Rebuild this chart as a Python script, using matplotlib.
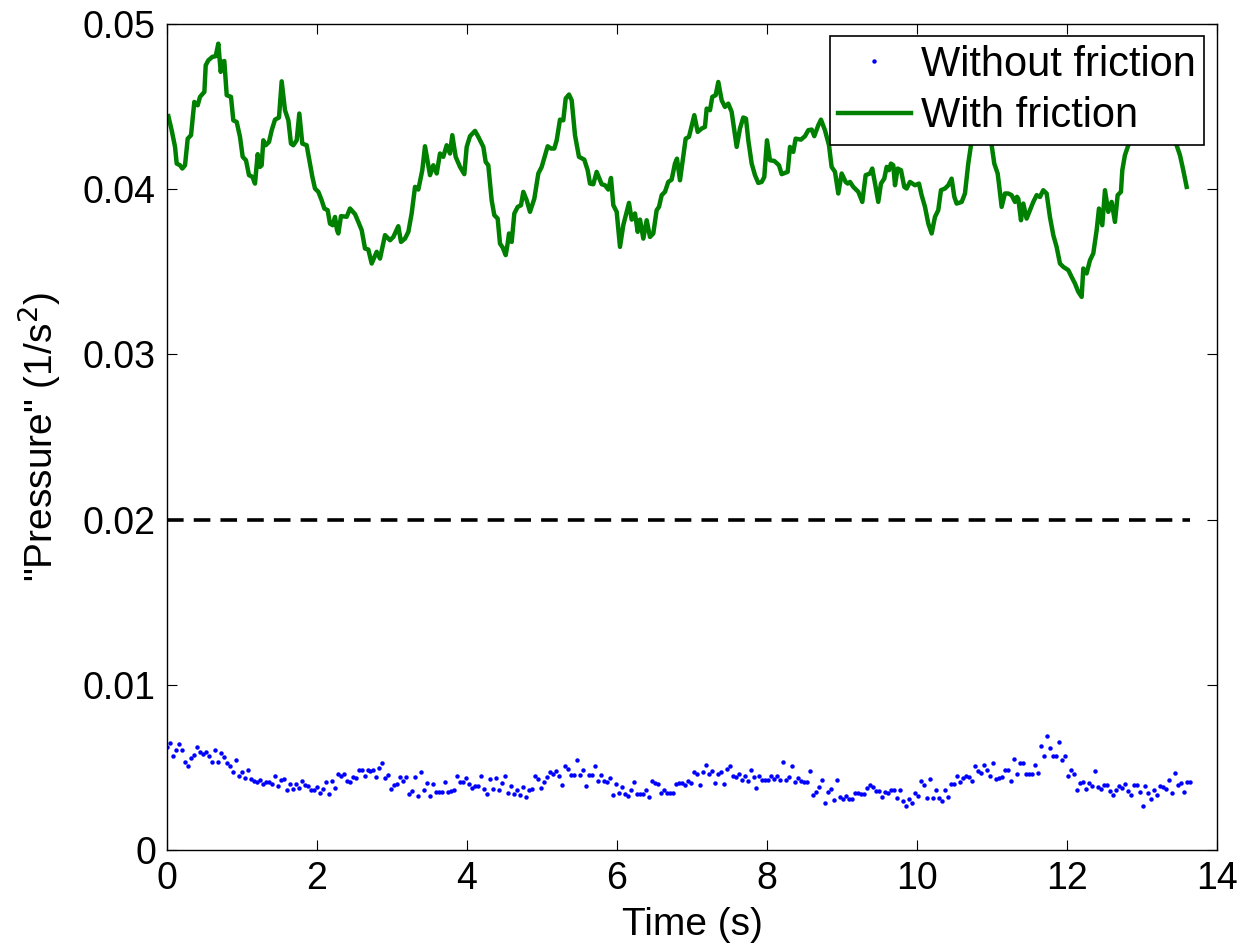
import numpy as np
import matplotlib
matplotlib.use("Agg")
import matplotlib.pyplot as plt

plt.rcParams['font.family'] = ['Liberation Sans', 'DejaVu Sans']

# Without friction: one sample every dt seconds (values in 1e-3 1/s^2)
dt = 0.0399
p_nofric = np.array([
    6.26, 6.49, 5.68, 6.03, 6.41, 6.05, 5.35, 5.10, 5.57, 5.74,
    6.24, 5.95, 5.83, 5.93, 5.70, 5.35, 6.07, 5.35, 5.85, 5.62,
    5.28, 5.07, 4.72, 5.47, 4.51, 4.70, 4.37, 4.85, 4.30, 4.16,
    4.12, 4.24, 4.01, 4.10, 4.14, 3.99, 4.51, 3.89, 4.26, 4.28,
    3.62, 3.97, 3.68, 3.99, 3.76, 4.16, 3.95, 3.89, 3.62, 3.64,
    3.82, 3.47, 3.70, 4.12, 3.41, 4.20, 3.78, 4.62, 4.47, 4.60,
    4.20, 4.12, 4.41, 4.39, 4.83, 4.83, 4.47, 4.83, 4.80, 4.85,
    4.45, 4.97, 5.24, 4.39, 4.57, 3.68, 3.93, 3.97, 4.43, 4.20,
    4.43, 3.41, 3.55, 4.45, 3.26, 4.72, 3.64, 4.05, 3.28, 3.99,
    3.53, 3.53, 3.51, 4.10, 3.53, 3.55, 3.66, 4.47, 4.14, 4.14,
    4.39, 3.97, 3.74, 3.89, 3.87, 4.49, 3.72, 3.37, 4.28, 3.72,
    4.39, 3.66, 4.08, 4.49, 3.43, 3.85, 3.41, 3.62, 3.34, 3.80,
    3.20, 3.66, 3.70, 4.49, 4.30, 3.78, 4.12, 4.45, 4.72, 4.60,
    4.78, 4.51, 3.91, 5.10, 4.91, 4.57, 4.57, 5.43, 4.57, 4.87,
    3.89, 4.53, 4.53, 5.10, 4.16, 4.53, 4.16, 4.14, 4.37, 3.32,
    3.97, 3.45, 3.80, 3.37, 3.28, 3.62, 4.10, 3.39, 3.39, 3.41,
    3.62, 3.20, 4.18, 4.08, 3.99, 3.43, 3.64, 3.43, 3.43, 3.43,
    4.01, 4.05, 4.05, 3.95, 4.16,
    4.05, 4.70, 4.58, 3.96, 4.73, 5.13, 4.58, 4.77, 4.03, 4.58,
    4.73, 3.98, 4.92, 5.11, 4.47, 4.41, 4.62, 4.22, 4.51, 4.15,
    4.83, 4.43, 3.77, 4.47, 4.22, 4.26, 4.26, 4.51, 4.30, 4.49,
    4.24, 5.34, 4.22, 4.43, 5.07, 4.13, 4.37, 4.17, 4.09, 4.09,
    4.81, 3.35, 3.52, 3.79, 4.26, 2.86, 3.50, 3.71, 3.03, 4.26,
    3.24, 3.09, 3.30, 3.09, 3.11, 3.45, 3.47, 3.39, 3.41, 3.73,
    3.92, 3.83, 3.56, 3.56, 3.22, 3.52, 3.45, 3.64, 3.66, 3.18,
    3.62, 2.99, 2.69, 3.11, 2.86, 3.45, 3.28, 4.17, 3.94, 3.16,
    4.28, 3.16, 3.66, 3.16, 2.99, 3.62, 3.24, 3.98, 3.98, 4.51,
    4.09, 4.34, 4.49, 4.41, 4.20, 5.11, 4.77, 4.68, 5.15, 4.83,
    4.47, 5.28, 4.30, 4.39, 4.43, 4.85, 4.85, 4.15, 5.49, 4.62,
    5.28, 5.28, 4.62, 4.58, 4.58, 5.15, 4.68, 6.32, 5.72, 6.89,
    6.17, 5.72, 5.70, 6.53, 5.47, 5.72, 4.47, 4.87, 4.58, 3.64,
    4.05, 4.11, 3.71, 4.05, 3.86, 4.81, 3.79, 3.69, 3.96, 3.96,
    3.58, 3.33, 3.64, 3.88, 3.75, 4.00, 3.60, 3.33, 3.92, 3.96,
    3.50, 2.65, 3.90, 3.43, 3.07, 3.62, 3.33, 3.88, 3.81, 3.69,
    4.22, 3.47, 4.68, 3.94, 4.07, 3.52, 4.11, 4.11,
]) * 1e-3
t_nofric = np.arange(len(p_nofric)) * dt

# With friction: (time, pressure in 1e-3 1/s^2) read at the line's corners
t_fric = [
    0.018, 0.062, 0.107, 0.129, 0.173, 0.204, 0.240, 0.276, 0.320, 0.364,
    0.409, 0.440, 0.498, 0.516, 0.551, 0.604, 0.649, 0.684, 0.716, 0.738,
    0.764, 0.796, 0.853, 0.884, 0.929, 0.973, 1.009, 1.053, 1.093, 1.138,
    1.173, 1.209, 1.240, 1.262, 1.284, 1.316, 1.360, 1.396, 1.440, 1.493,
    1.529, 1.573, 1.618, 1.653, 1.684, 1.729, 1.764, 1.804, 1.862, 1.907,
    1.938, 1.973, 2.018, 2.062, 2.098, 2.142, 2.173, 2.209, 2.240, 2.267,
    2.284, 2.320, 2.396, 2.440, 2.507, 2.551, 2.596, 2.640, 2.684, 2.729,
    2.796, 2.840, 2.907, 2.973, 3.018, 3.084, 3.120, 3.173, 3.218, 3.262,
    3.307, 3.351, 3.404, 3.440, 3.507, 3.551, 3.596, 3.640, 3.684, 3.729,
    3.773, 3.804, 3.849, 3.907, 3.964, 3.996, 4.040, 4.107, 4.151, 4.218,
    4.249, 4.284, 4.329, 4.364, 4.409, 4.440, 4.476, 4.516,
    4.542, 4.560, 4.596, 4.631, 4.676, 4.720, 4.751, 4.796, 4.840, 4.898,
    4.951, 4.996, 5.076, 5.120, 5.164, 5.196, 5.240, 5.284, 5.316, 5.360,
    5.396, 5.440, 5.493, 5.564, 5.609, 5.640, 5.684, 5.729, 5.796, 5.840,
    5.884, 5.920, 5.951, 5.996, 6.040, 6.084, 6.160, 6.196, 6.240, 6.276,
    6.307, 6.351, 6.396, 6.440, 6.484, 6.529, 6.560, 6.596, 6.640, 6.684,
    6.729, 6.773, 6.800,
    6.840, 6.871, 6.916, 6.960, 7.031, 7.076, 7.129, 7.173, 7.196, 7.240,
    7.271, 7.316, 7.351, 7.396, 7.440, 7.484, 7.529, 7.564, 7.596, 7.640,
    7.684, 7.720, 7.751, 7.796, 7.840, 7.884, 7.929, 7.964, 8.000, 8.040,
    8.098, 8.160, 8.196, 8.240, 8.276, 8.307, 8.351, 8.382, 8.453, 8.507,
    8.551, 8.596, 8.631, 8.684, 8.720, 8.773, 8.827, 8.862, 8.907, 8.951,
    8.996, 9.049,
    9.076, 9.107, 9.151, 9.218, 9.271, 9.316, 9.373, 9.404, 9.449, 9.484,
    9.520, 9.564, 9.596, 9.627, 9.653, 9.684, 9.707, 9.742, 9.787, 9.831,
    9.862, 9.907, 9.973, 10.027, 10.062, 10.107, 10.151, 10.196, 10.240, 10.284,
    10.320, 10.373, 10.418, 10.462, 10.498, 10.529, 10.596, 10.640, 10.684, 10.720,
    10.800, 10.900, 10.996, 11.031, 11.076, 11.093, 11.129, 11.173, 11.218, 11.262,
    11.307, 11.333,
    11.351, 11.387, 11.418, 11.462, 11.507, 11.551, 11.596, 11.640, 11.684, 11.729,
    11.773, 11.818, 11.862, 11.907, 11.951, 12.018, 12.062, 12.107, 12.151, 12.196,
    12.218, 12.262, 12.307, 12.351, 12.396, 12.427, 12.471, 12.507, 12.551, 12.596,
    12.640, 12.676, 12.720, 12.738, 12.773, 12.818, 12.900, 13.100, 13.300, 13.462,
    13.507, 13.551, 13.596,
]
p_fric = np.array([
    44.42, 43.57, 42.56, 41.55, 41.45, 41.25, 41.45, 43.06, 43.27, 45.28,
    45.08, 45.59, 45.89, 47.50, 47.80, 48.01, 48.05, 48.81, 47.10, 47.70,
    47.76, 45.69, 45.59, 44.17, 44.07, 43.17, 41.96, 41.75, 40.85, 40.75,
    40.34, 42.12, 41.35, 41.45, 42.96, 42.66, 42.86, 43.57, 44.21, 44.34,
    46.53, 44.78, 44.17, 42.76, 42.66, 42.96, 44.58, 42.76, 42.66, 41.55,
    40.75, 40.04, 39.84, 39.33, 38.83, 38.73, 37.92, 37.82, 38.32, 37.52,
    37.32, 38.37, 38.33, 38.83, 38.49, 38.02, 37.52, 36.41, 36.35, 35.50,
    36.21, 35.80, 37.22, 36.91, 37.11, 37.76, 36.81, 37.01, 37.42, 38.53,
    40.14, 39.98, 41.15, 42.60, 40.85, 41.45, 40.95, 42.16, 41.96, 42.66,
    42.16, 43.27, 41.96, 41.35, 40.91, 42.56, 43.21, 43.53, 43.17, 42.56,
    41.65, 41.45, 39.33, 38.43, 38.22, 36.71, 36.47, 36.01,
    36.71, 37.32, 36.81, 38.53, 38.93, 39.03, 39.84, 39.33, 38.63, 39.43,
    40.95, 41.35, 42.60, 42.46, 42.46, 42.96, 44.21, 44.17, 45.49, 45.73,
    45.38, 43.27, 41.96, 41.79, 41.15, 40.34, 40.30, 41.05, 40.30, 40.24,
    39.98, 40.68, 39.03, 38.63, 36.51, 37.82, 39.17, 38.16, 38.53, 37.42,
    38.16, 37.01, 38.12, 37.11, 37.32, 38.73, 38.93, 39.64, 39.84, 40.44,
    40.58, 41.55, 41.85,
    40.54, 41.55, 43.06, 43.17, 44.48, 43.47, 43.67, 43.77, 44.88, 44.78,
    45.59, 45.69, 46.49, 45.38, 44.98, 45.18, 44.68, 43.57, 42.56, 43.67,
    44.34, 44.27, 42.96, 41.55, 40.85, 40.38, 40.44, 40.74, 42.96, 41.75,
    41.71, 41.45, 40.91, 40.99, 41.05, 42.56, 42.26, 43.06, 43.00, 43.21,
    43.57, 43.61, 43.21, 43.87, 44.21, 43.57, 42.66, 41.35, 41.05, 39.74,
    40.95, 40.44,
    40.34, 40.44, 40.14, 39.84, 39.23, 40.85, 40.95, 41.25, 40.14, 39.23,
    40.34, 40.64, 41.35, 41.15, 41.55, 41.45, 40.24, 41.25, 41.15, 40.14,
    40.04, 40.44, 40.24, 40.34, 39.64, 38.93, 37.92, 37.32, 38.32, 38.73,
    39.94, 40.04, 40.24, 40.64, 39.54, 39.13, 39.23, 39.74, 41.55, 42.66,
    44.50, 45.20, 42.66, 41.55, 40.95, 40.34, 38.93, 39.74, 39.74, 39.64,
    39.23, 39.54,
    39.43, 38.12, 39.13, 38.22, 38.73, 39.23, 39.64, 39.53, 39.94, 39.74,
    38.32, 37.22, 36.51, 35.50, 35.30, 35.10, 34.69, 34.29, 33.79, 33.48,
    35.20, 34.90, 35.70, 36.11, 37.52, 38.83, 37.82, 39.94, 38.63, 39.23,
    38.02, 39.64, 39.84, 41.15, 42.06, 42.66, 44.00, 44.80, 44.20, 42.66,
    42.06, 41.15, 40.14,
]) * 1e-3

threshold = 0.02
xticks = [0, 2, 4, 6, 8, 10, 12, 14]
yticks = [0, 0.01, 0.02, 0.03, 0.04, 0.05]
ytick_labels = ['0', '0.01', '0.02', '0.03', '0.04', '0.05']

fig = plt.figure(figsize=(12.52, 9.52), dpi=100)
ax = fig.add_axes([0.1334, 0.1071, 0.8386, 0.8677])

ax.plot(t_nofric, p_nofric, 'o', color='#0000ff', markersize=3.2, mew=0,
        label='Without friction')
ax.plot(t_fric, p_fric, '-', color='#008000', lw=3.2, label='With friction')
ax.hlines(threshold, t_nofric[0], t_nofric[-1], colors='k', lw=2.6,
          linestyles=(0, (4.6, 2.8)))

ax.set_xlim(0, 14)
ax.set_ylim(0, 0.05)
ax.set_xticks(xticks)
ax.set_xticklabels([str(x) for x in xticks])
ax.set_yticks(yticks)
ax.set_yticklabels(ytick_labels)
ax.tick_params(direction='in', length=7, width=0.8, labelsize=27,
               top=True, right=True, pad=8)
for s in ax.spines.values():
    s.set_linewidth(1.0)

ax.set_xlabel('Time (s)', fontsize=28, labelpad=7)
ax.set_ylabel('"Pressure" (1/s$^2$)', fontsize=28, labelpad=14)

leg = ax.legend(loc='upper right', fontsize=30, frameon=True, fancybox=False,
                handlelength=1.75, handletextpad=0.25, borderpad=0.2,
                labelspacing=0.28, borderaxespad=0.3, markerscale=1.0)
leg.get_frame().set_edgecolor('black')
leg.get_frame().set_linewidth(1.2)
leg.get_frame().set_alpha(1)

fig.savefig('out.png', dpi=100)
